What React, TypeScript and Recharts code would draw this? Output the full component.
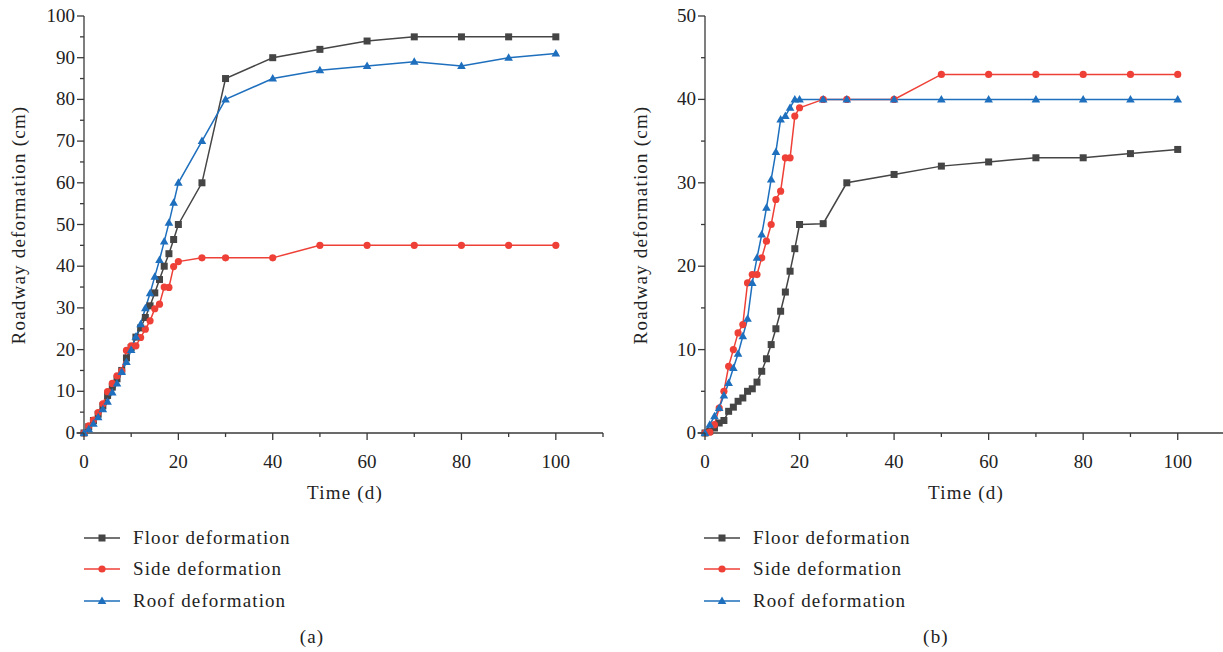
import { LineChart, Line, XAxis, YAxis, Legend, ReferenceLine } from 'recharts';

// Time (d) at which each reading was taken, shared by all series
const DAYS = [0, 1, 2, 3, 4, 5, 6, 7, 8, 9, 10, 11, 12, 13, 14, 15, 16, 17, 18, 19, 20, 25, 30, 40, 50, 60, 70, 80, 90, 100];

// Panel (a)
const A_FLOOR = [0, 1.5, 3, 4.5, 6.5, 9, 11, 13, 15, 18, 20.5, 23, 25.2, 27.7, 30.5, 33.6, 36.8, 40, 43, 46.4, 50, 60, 85, 90, 92, 94, 95, 95, 95, 95];
const A_SIDE = [0, 1.7, 3.1, 4.9, 7, 9.9, 11.9, 13.7, 14.9, 19.8, 20.9, 20.9, 22.9, 24.9, 26.9, 29.8, 30.9, 35, 34.9, 39.9, 41.1, 42, 42, 42, 45, 45, 45, 45, 45, 45];
const A_ROOF = [0, 0.9, 2.2, 3.8, 5.7, 7.5, 9.7, 11.9, 14.6, 17, 19.9, 23.1, 26.1, 29.9, 33.5, 37.5, 41.5, 45.9, 50.4, 55.2, 60, 70, 80, 85, 87, 88, 89, 88, 90, 91];

// Panel (b)
const B_FLOOR = [0, 0.2, 0.6, 1.2, 1.5, 2.6, 3.1, 3.8, 4.2, 5, 5.3, 6.1, 7.4, 8.9, 10.6, 12.5, 14.6, 16.9, 19.4, 22.1, 25, 25.1, 30, 31, 32, 32.5, 33, 33, 33.5, 34];
const B_SIDE = [0, 0.1, 1, 3, 5, 8, 10, 12, 13, 18, 19, 19, 21, 23, 25, 28, 29, 33, 33, 38, 39, 40, 40, 40, 43, 43, 43, 43, 43, 43];
const B_ROOF = [0, 1, 2, 3, 4.5, 6, 7.8, 9.5, 11.6, 13.7, 18, 21, 23.8, 27, 30.4, 33.7, 37.6, 38, 39, 40, 40, 40, 40, 40, 40, 40, 40, 40, 40, 40];

const X_TICKS = [0, 10, 20, 30, 40, 50, 60, 70, 80, 90, 100, 110];
const A_Y_TICKS = [0, 5, 10, 15, 20, 25, 30, 35, 40, 45, 50, 55, 60, 65, 70, 75, 80, 85, 90, 95, 100];
const B_Y_TICKS = [0, 5, 10, 15, 20, 25, 30, 35, 40, 45, 50];

const SERIES = [
  { key: 'floor', name: 'Floor deformation', color: '#454545' },
  { key: 'side', name: 'Side deformation', color: '#ee4037' },
  { key: 'roof', name: 'Roof deformation', color: '#1e6fbd' },
];

const FONT = "'Liberation Serif', 'Times New Roman', serif";
const AXIS = '#3a3a3a';
const TEXT = '#222';

const marker = (key: string, cx: number, cy: number, color: string) => {
  if (key === 'floor') return <rect x={cx - 3.5} y={cy - 3.5} width={7} height={7} fill={color} />;
  if (key === 'side') return <circle cx={cx} cy={cy} r={3.6} fill={color} />;
  return <path d={`M${cx},${cy - 4.5} L${cx + 4.3},${cy + 3} L${cx - 4.3},${cy + 3} Z`} fill={color} />;
};

const XTick = ({ x, y, payload }: any) => {
  const v = payload.value;
  const major = v % 20 === 0 && v <= 100;
  return (
    <g>
      <line x1={x} y1={y} x2={x} y2={y + (major ? 7 : 4)} stroke={AXIS} strokeWidth={1.3} />
      {major && (
        <text x={x} y={y + 35} textAnchor="middle" fontFamily={FONT} fontSize={19} fill={TEXT}>
          {v}
        </text>
      )}
    </g>
  );
};

const YTick = ({ x, y, payload }: any) => {
  const v = payload.value;
  const major = v % 10 === 0;
  return (
    <g>
      <line x1={x} y1={y} x2={x - (major ? 7 : 4)} y2={y} stroke={AXIS} strokeWidth={1.3} />
      {major && (
        <text x={x - 9} y={y + 6} textAnchor="end" fontFamily={FONT} fontSize={19} fill={TEXT}>
          {v}
        </text>
      )}
    </g>
  );
};

// keep the legend in the series order, not sorted by name
const LegendBox = ({ payload }: any) => {
  const items = SERIES.map((s) => (payload || []).find((p: any) => p.dataKey === s.key)).filter(Boolean);
  return (
    <div style={{ fontFamily: FONT, fontSize: 19, color: TEXT, letterSpacing: 1.1 }}>
      {items.map((p: any) => (
        <div key={p.value} style={{ display: 'flex', alignItems: 'center', height: 31.5 }}>
          <svg width={36} height={12} style={{ marginRight: 13 }}>
            <line x1={0} y1={6} x2={36} y2={6} stroke={p.color} strokeWidth={1.5} />
            {marker(p.dataKey, 18, 6, p.color)}
          </svg>
          <span>{p.value}</span>
        </div>
      ))}
    </div>
  );
};

function Panel({ floor, side, roof, yMax, yTicks, left, yAxisWidth, width, rightMargin }: any) {
  const data = DAYS.map((d, i) => ({ day: d, floor: floor[i], side: side[i], roof: roof[i] }));
  return (
    <div style={{ position: 'absolute', left, top: 0 }}>
      <LineChart width={width} height={652} data={data} margin={{ top: 16, right: rightMargin, left: 0, bottom: 172 }}>
        <XAxis
          dataKey="day"
          type="number"
          domain={[0, 110]}
          ticks={X_TICKS}
          interval={0}
          tickSize={0}
          tickMargin={0}
          tick={<XTick />}
          stroke={AXIS}
          strokeWidth={1.3}
          height={47}
        />
        <YAxis
          type="number"
          domain={[0, yMax]}
          ticks={yTicks}
          interval={0}
          tickSize={0}
          tickMargin={0}
          tick={<YTick />}
          stroke={AXIS}
          strokeWidth={1.3}
          width={yAxisWidth}
        />
        <ReferenceLine
          segment={[{ x: -1.6, y: 0 }, { x: 0, y: 0 }]}
          stroke={AXIS}
          strokeWidth={1.3}
          ifOverflow="visible"
        />
        {SERIES.map((s) => (
          <Line
            key={s.key}
            dataKey={s.key}
            name={s.name}
            type="linear"
            stroke={s.color}
            strokeWidth={1.5}
            isAnimationActive={false}
            dot={(p: any) => <g key={`${s.key}-${p.index}`}>{marker(s.key, p.cx, p.cy, s.color)}</g>}
            activeDot={false}
          />
        ))}
        <Legend
          layout="vertical"
          align="center"
          verticalAlign="middle"
          content={<LegendBox />}
          wrapperStyle={{ left: 84, top: 522, width: 300, height: 'auto' }}
        />
      </LineChart>
    </div>
  );
}

const label = (text: string, x: number, y: number, rotate = false) => (
  <div
    style={{
      position: 'absolute',
      left: x,
      top: y,
      transform: `translate(-50%, -50%)${rotate ? ' rotate(-90deg)' : ''}`,
      whiteSpace: 'nowrap',
      fontFamily: FONT,
      fontSize: 19,
      letterSpacing: 1.2,
      color: TEXT,
    }}
  >
    {text}
  </div>
);

export default function App() {
  return (
    <div style={{ position: 'absolute', left: 0, top: 0, width: 1223, height: 652, overflow: 'hidden', background: '#fff' }}>
      <Panel floor={A_FLOOR} side={A_SIDE} roof={A_ROOF} yMax={100} yTicks={A_Y_TICKS} left={0} width={620} yAxisWidth={84} rightMargin={17} />
      <Panel floor={B_FLOOR} side={B_SIDE} roof={B_ROOF} yMax={50} yTicks={B_Y_TICKS} left={620} width={605} yAxisWidth={85} rightMargin={0} />
      {label('Roadway deformation (cm)', 19, 225, true)}
      {label('Roadway deformation (cm)', 641, 225, true)}
      {label('Time (d)', 345, 493)}
      {label('Time (d)', 966, 493)}
      {label('(a)', 312, 637)}
      {label('(b)', 936, 637)}
    </div>
  );
}
